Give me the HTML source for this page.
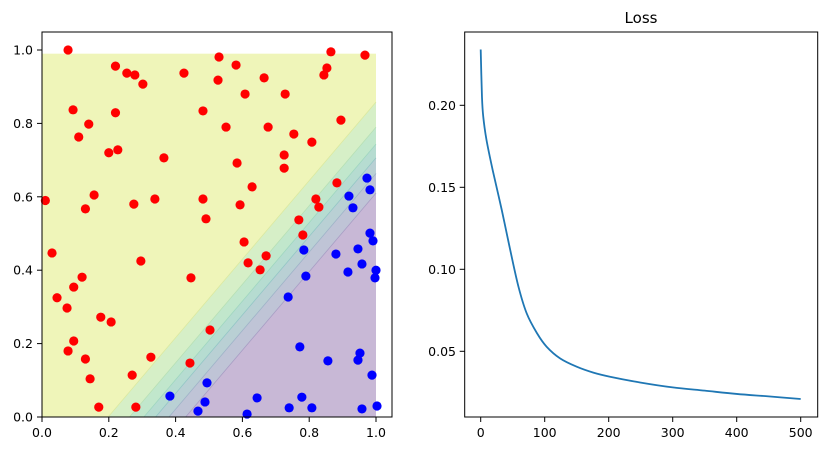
<!DOCTYPE html>
<html><head><meta charset="utf-8"><style>
body{margin:0;background:#fff;}
svg{display:block;font-family:"DejaVu Sans","Liberation Sans",sans-serif;}
</style></head><body>
<svg id="chart" width="826" height="451">
<g id="left"></g>
<g id="right"></g>
</svg>
<script>
// ---- data: classification ----
const redX=[0.078,0.01,0.03,0.045,0.075,0.095,0.12,0.078,0.095,0.13,0.144,0.17,0.176,0.207,0.156,0.13,0.14,0.11,0.093,0.22,0.22,0.227,0.2,0.254,0.278,0.302,0.275,0.296,0.27,0.281,0.326,0.338,0.365,0.425,0.446,0.443,0.482,0.482,0.491,0.503,0.53,0.527,0.551,0.581,0.584,0.593,0.608,0.605,0.617,0.629,0.653,0.665,0.671,0.677,0.728,0.725,0.725,0.754,0.769,0.781,0.808,0.82,0.829,0.844,0.853,0.865,0.883,0.895,0.967];
const redY=[1.0,0.59,0.447,0.325,0.297,0.354,0.381,0.18,0.207,0.158,0.104,0.027,0.272,0.259,0.605,0.567,0.798,0.763,0.837,0.956,0.829,0.728,0.72,0.937,0.932,0.907,0.58,0.425,0.114,0.027,0.163,0.594,0.706,0.937,0.379,0.147,0.834,0.594,0.54,0.237,0.981,0.918,0.79,0.959,0.692,0.578,0.88,0.477,0.42,0.627,0.401,0.924,0.439,0.79,0.88,0.714,0.678,0.771,0.537,0.496,0.749,0.594,0.572,0.932,0.951,0.995,0.638,0.809,0.986];
const blueX=[0.383,0.467,0.488,0.494,0.614,0.644,0.737,0.74,0.772,0.778,0.784,0.79,0.808,0.856,0.88,0.916,0.919,0.931,0.946,0.946,0.952,0.958,0.958,0.973,0.982,0.982,0.991,0.988,1.0,0.997,1.003];
const blueY=[0.057,0.016,0.041,0.093,0.008,0.052,0.327,0.025,0.191,0.054,0.455,0.384,0.025,0.153,0.444,0.395,0.602,0.57,0.458,0.155,0.174,0.417,0.022,0.651,0.619,0.501,0.48,0.114,0.4,0.379,0.03];
const levelX0=[0.198,0.262,0.305,0.34,0.38,0.43];
const xTicks=[0,0.2,0.4,0.6,0.8,1.0];
const yTicks=[0,0.2,0.4,0.6,0.8,1.0];
// ---- data: loss ----
const lossIter=[0,2,4,9,19,33,46,59,72,88,103,124,150,176,202,249,300,350,400,450,500];
const lossVal=[0.234,0.205,0.193,0.179,0.160,0.136,0.112,0.0894,0.073,0.061,0.0528,0.0457,0.0406,0.037,0.0345,0.031,0.028,0.026,0.024,0.0225,0.0209];
const lossXTicks=[0,100,200,300,400,500];
const lossYTicks=[0.05,0.10,0.15,0.20];

const NS="http://www.w3.org/2000/svg";
function mk(parent,tag,attrs){const e=document.createElementNS(NS,tag);for(const k in attrs)e.setAttribute(k,attrs[k]);parent.appendChild(e);return e;}

// left axes
const L=document.getElementById('left');
const lx=v=>42+v*334, ly=v=>417-v*367;
const slope=1.07;
const bandColors=['#eff5b9','#d6efc7','#c1e7cc','#b6dcd1','#b9d0d4','#bfc4d6','#c8b8d6'];
const lineColors=['#dbe9a0','#b7e0b5','#9fd6c0','#94c6c6','#9fb3c8','#a89ec4'];
let bg=mk(L,'rect',{x:lx(0),y:ly(0.99),width:lx(1)-lx(0),height:ly(0)-ly(0.99),fill:bandColors[0]});


levelX0.forEach((x0,i)=>{
  const yR=slope*(1-x0);
  const p=mk(L,'polygon',{points:`${lx(x0)},${ly(0)} ${lx(1)},${ly(0)} ${lx(1)},${ly(yR)}`,fill:bandColors[i+1]});
  
  
  const ln=mk(L,'line',{x1:lx(x0),y1:ly(0),x2:lx(1),y2:ly(yR),stroke:lineColors[i],'stroke-width':0.8});
  
  
});
redX.forEach((x,i)=>{const c=mk(L,'circle',{cx:lx(x),cy:ly(redY[i]),r:4.6,fill:'#ff0000'});
  
  });
blueX.forEach((x,i)=>{const c=mk(L,'circle',{cx:lx(x),cy:ly(blueY[i]),r:4.6,fill:'#0000ff'});
  
  });
let fr=mk(L,'rect',{x:42,y:32,width:350,height:385,fill:'none',stroke:'#000','stroke-width':1});


xTicks.forEach(t=>{mk(L,'line',{x1:lx(t),x2:lx(t),y1:417,y2:422,stroke:'#000'});
  const tx=mk(L,'text',{x:lx(t),y:437,'font-size':12.5,'text-anchor':'middle'});tx.textContent=t.toFixed(1);
  
  });
yTicks.forEach(t=>{mk(L,'line',{x1:37,x2:42,y1:ly(t),y2:ly(t),stroke:'#000'});
  const tx=mk(L,'text',{x:33,y:ly(t)+4.5,'font-size':12.5,'text-anchor':'end'});tx.textContent=t.toFixed(1);
  
  });

// right axes
const R=document.getElementById('right');
const rx=v=>480.7+v*0.64, ry=v=>105.3-(v-0.2)*1640;
let fr2=mk(R,'rect',{x:464.7,y:32,width:353,height:385,fill:'none',stroke:'#000','stroke-width':1});


// smooth path (Catmull-Rom)
const P=lossIter.map((it,i)=>[rx(it),ry(lossVal[i])]);
let d='M'+P[0][0].toFixed(2)+','+P[0][1].toFixed(2);
for(let i=0;i<P.length-1;i++){
  const p0=P[i-1]||P[i],p1=P[i],p2=P[i+1],p3=P[i+2]||P[i+1];
  const c1=[p1[0]+(p2[0]-p0[0])/6,p1[1]+(p2[1]-p0[1])/6];
  const c2=[p2[0]-(p3[0]-p1[0])/6,p2[1]-(p3[1]-p1[1])/6];
  d+=` C${c1[0].toFixed(2)},${c1[1].toFixed(2)} ${c2[0].toFixed(2)},${c2[1].toFixed(2)} ${p2[0].toFixed(2)},${p2[1].toFixed(2)}`;
}
let pl=mk(R,'path',{d:d,fill:'none',stroke:'#1f77b4','stroke-width':1.8,'stroke-linejoin':'round'});


lossXTicks.forEach(t=>{mk(R,'line',{x1:rx(t),x2:rx(t),y1:417,y2:422,stroke:'#000'});
  const tx=mk(R,'text',{x:rx(t),y:437,'font-size':12.5,'text-anchor':'middle'});tx.textContent=t;
  
  });
lossYTicks.forEach(t=>{mk(R,'line',{x1:459.7,x2:464.7,y1:ry(t),y2:ry(t),stroke:'#000'});
  const tx=mk(R,'text',{x:456,y:ry(t)+4.5,'font-size':12.5,'text-anchor':'end'});tx.textContent=t.toFixed(2);
  
  });
let ti=mk(R,'text',{x:641,y:23,'font-size':15,'text-anchor':'middle'});ti.textContent='Loss';


</script>
</body></html>
